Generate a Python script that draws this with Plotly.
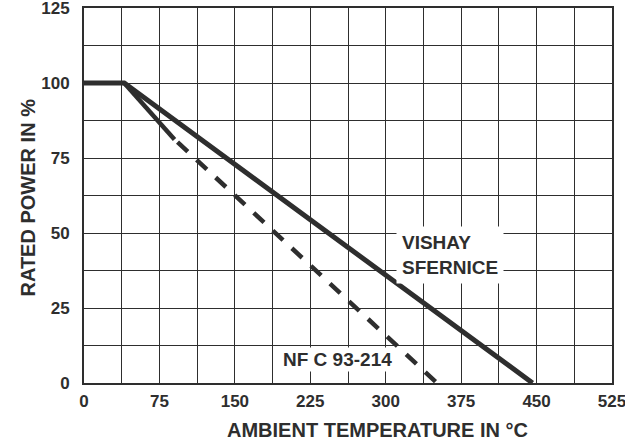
import plotly.graph_objects as go

# Data
vishay_x = [0, 40, 446]
vishay_y = [100, 100, 0]

nf_solid_x = [40, 90]
nf_solid_y = [100, 81.2]
nf_dash_x = [93, 351]
nf_dash_y = [80.3, 0]

x_ticks = [0, 75, 150, 225, 300, 375, 450, 525]
y_ticks = [0, 25, 50, 75, 100, 125]

INK = "#2e2e2e"
FONT = "Liberation Sans, Arial, Helvetica, sans-serif"

L, R, T, B = 84, 612, 8, 383  # plot area in pixels


def px_to_paper(px, py):
    return (px - L) / (R - L), 1 - (py - T) / (B - T)


fig = go.Figure()
fig.add_trace(go.Scatter(x=vishay_x, y=vishay_y, mode="lines",
                         line=dict(color=INK, width=5), showlegend=False))
fig.add_trace(go.Scatter(x=nf_solid_x, y=nf_solid_y, mode="lines",
                         line=dict(color=INK, width=4.5), showlegend=False))
fig.add_trace(go.Scatter(x=nf_dash_x, y=nf_dash_y, mode="lines",
                         line=dict(color=INK, width=4.5, dash="14px,12px"),
                         showlegend=False))

fig.add_annotation(x=310.5, y=42.6, xref="x", yref="y", xanchor="left", yanchor="middle",
                   text="VISHAY<br>SFERNICE", align="left", showarrow=False,
                   bgcolor="white", borderpad=5,
                   font=dict(family=FONT, size=19, color=INK, weight="bold"))
fig.add_annotation(x=196, y=7.8, xref="x", yref="y", xanchor="left", yanchor="middle",
                   text="NF C 93-214", showarrow=False,
                   bgcolor="white", borderpad=1,
                   font=dict(family=FONT, size=19, color=INK, weight="bold"))

xt, yt = px_to_paper(377.5, 430)
fig.add_annotation(x=xt, y=yt, xref="paper", yref="paper",
                   xanchor="center", yanchor="middle", showarrow=False,
                   text="AMBIENT TEMPERATURE IN °C",
                   font=dict(family=FONT, size=20, color=INK, weight="bold"))
xt, yt = px_to_paper(27, 197.5)
fig.add_annotation(x=xt, y=yt, xref="paper", yref="paper", showarrow=False,
                   text="RATED POWER IN %", textangle=-90,
                   xanchor="center", yanchor="middle",
                   font=dict(family=FONT, size=20, color=INK, weight="bold"))

axis_common = dict(showline=True, mirror=True, linecolor=INK, linewidth=2,
                   showgrid=True, gridcolor=INK, gridwidth=1.3, zeroline=False,
                   ticks="", automargin=False, ticklabeloverflow="allow",
                   tickfont=dict(family=FONT, size=17, color=INK, weight="bold"))

fig.update_xaxes(range=[0, 525], tickvals=x_ticks, ticklabelstandoff=2,
                 minor=dict(dtick=37.5, tick0=0, showgrid=True, gridcolor=INK, gridwidth=1.3),
                 **axis_common)
fig.update_yaxes(range=[0, 125], tickvals=y_ticks, ticklabelstandoff=9,
                 minor=dict(dtick=12.5, tick0=0, showgrid=True, gridcolor=INK, gridwidth=1.3),
                 **axis_common)

fig.update_layout(width=625, height=444,
                  margin=dict(l=L, r=625 - R, t=T, b=444 - B),
                  plot_bgcolor="white", paper_bgcolor="white")

fig.write_html("out.html", config={"displayModeBar": False},
               post_script="document.body.style.margin='0';document.body.style.overflow='hidden';")
